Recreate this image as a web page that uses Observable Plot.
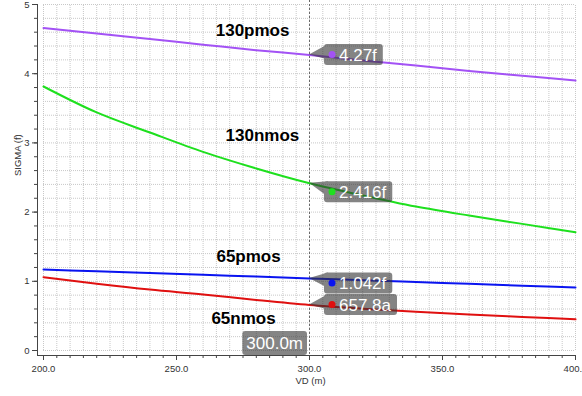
<!DOCTYPE html>
<html>
<head>
<meta charset="utf-8">
<script src="https://cdn.jsdelivr.net/npm/d3@7"></script>
<script src="https://cdn.jsdelivr.net/npm/@observablehq/plot@0.6"></script>
<style>
  html, body { margin: 0; padding: 0; background: #fff; overflow: hidden; }
  #chart svg { display: block; }
</style>
</head>
<body>
<div id="chart"></div>
<script>
const FONT = "'Liberation Sans', Arial, Helvetica, sans-serif";

// Drain-voltage sweep, VD in mV
const vd = [200, 220, 240, 260, 280, 300, 320, 340, 360, 380, 400];

// Mismatch sigma (fF) for each device
const sigma130pmos = [4.66, 4.58, 4.50, 4.42, 4.34, 4.27, 4.19, 4.12, 4.04, 3.97, 3.90];
const sigma130nmos = [3.815, 3.44, 3.15, 2.87, 2.63, 2.416, 2.24, 2.08, 1.95, 1.83, 1.71];
const sigma65pmos  = [1.17, 1.145, 1.12, 1.094, 1.068, 1.042, 1.016, 0.99, 0.963, 0.937, 0.91];
const sigma65nmos  = [1.06, 0.965, 0.88, 0.81, 0.73, 0.6578, 0.605, 0.56, 0.52, 0.485, 0.45];

const seriesNames  = ["130pmos", "130nmos", "65pmos", "65nmos"];
const seriesValues = [sigma130pmos, sigma130nmos, sigma65pmos, sigma65nmos];
const seriesColors = ["#a352f5", "#1ee01e", "#0a14f0", "#e01010"];

// Where each curve name sits (VD, sigma)
const labelVD    = [278.6, 282.3, 277.1, 275.2];
const labelSigma = [4.62, 3.11, 1.36, 0.46];

// Vertical cursor and its readouts
const cursorVD = 300;
const cursorText = "300.0m";
const readoutValues = [4.27, 2.416, 1.042, 0.6578];
const readoutText = ["4.27f", "2.416f", "1.042f", "657.8a"];

// Axis ticks
const xMajor = d3.range(200, 401, 50);
const xMinor = d3.range(200, 401, 5);
const yMajor = d3.range(0, 6);
const yMinor = d3.range(0, 26).map(i => i / 5);

// ---- tables built from the arrays above ----
const curves = seriesNames.flatMap((name, s) =>
  vd.map((x, i) => ({series: name, x, y: seriesValues[s][i]})));
const curveLabels = seriesNames.map((name, s) => ({name, x: labelVD[s], y: labelSigma[s]}));
// vertical nudge (px) of each readout box so neighbouring boxes don't collide
const readoutShift = [0, 9, 5, 0];
const readouts = seriesNames.map((name, s) => ({
  x: cursorVD, y: readoutValues[s], text: readoutText[s], color: seriesColors[s], shift: readoutShift[s]
}));

const measureCtx = document.createElement("canvas").getContext("2d");
function textWidth(str, size) {
  measureCtx.font = `${size}px ${FONT}`;
  return measureCtx.measureText(str).width;
}

// Grey flag-shaped readout boxes pointing at the cursor crossings
function readoutCallouts(rows) {
  return Plot.dot(rows, {
    x: "x", y: "y",
    render(index, scales, values) {
      const g = d3.create("svg:g");
      for (const i of index) {
        const {text, color, shift} = rows[i];
        const px = values.x[i], py = values.y[i];
        const cy = py + shift;
        const h = 21, bx = px + 15, top = cy - h / 2;
        const w = 15 + textWidth(text, 17) + 6;
        const shape = g.append("g").attr("opacity", 0.6).attr("fill", "#333");
        shape.append("path").attr("d", `M${px},${py}L${bx + 4},${top}L${bx + 4},${cy + 5}Z`);
        shape.append("rect").attr("x", bx).attr("y", top).attr("width", w).attr("height", h).attr("rx", 3);
        g.append("circle").attr("cx", bx + 8).attr("cy", cy).attr("r", 3.5).attr("fill", color);
        g.append("text")
          .attr("x", bx + 15).attr("y", cy).attr("dy", "0.36em")
          .attr("text-anchor", "start")
          .attr("fill", "#fff").attr("font-size", 17).attr("font-family", FONT)
          .text(text);
      }
      return g.node();
    }
  });
}

// Cursor position box sitting on the x axis, left of the cursor line
function cursorBox(value, label) {
  return Plot.dot([value], {
    x: d => d,
    render(index, scales, values, dims) {
      const g = d3.create("svg:g");
      const px = values.x[index[0]];
      const bottom = dims.height - dims.marginBottom;
      const w = textWidth(label, 17) + 8, h = 24;
      g.append("rect")
        .attr("x", px - 2 - w).attr("y", bottom - h).attr("width", w).attr("height", h)
        .attr("rx", 3).attr("fill", "#333").attr("opacity", 0.6);
      g.append("text")
        .attr("x", px - 2 - w / 2).attr("y", bottom - h / 2).attr("dy", "0.36em")
        .attr("text-anchor", "middle").attr("fill", "#fff")
        .attr("font-size", 17).attr("font-family", FONT)
        .text(label);
      return g.node();
    }
  });
}

const chart = Plot.plot({
  width: 582,
  height: 396,
  marginLeft: 37,
  marginRight: 7,
  marginTop: 4,
  marginBottom: 41,
  x: {domain: [200, 400], insetLeft: 6},
  y: {domain: [0, 5], insetBottom: 5},
  color: {domain: seriesNames, range: seriesColors},
  style: {fontFamily: FONT, fontSize: "9.5px", color: "#333", background: "#fff", overflow: "visible"},
  marks: [
    // dotted grid
    Plot.ruleY(yMinor, {x1: 200, x2: 400, stroke: "#c8c8c8", strokeDasharray: "1,1"}),
    Plot.ruleX(xMinor, {y1: 0, y2: 5, stroke: "#c8c8c8", strokeDasharray: "1,1"}),
    // cursor line
    Plot.ruleX([cursorVD], {stroke: "#6a6a6a", strokeDasharray: "2,2", insetTop: -4}),
    // curves
    Plot.line(curves, {x: "x", y: "y", z: "series", stroke: "series", strokeWidth: 2, curve: "monotone-x"}),
    // curve names
    Plot.text(curveLabels, {
      x: "x", y: "y", text: "name", fill: "#000",
      fontSize: 17, fontWeight: "bold", fontFamily: FONT
    }),
    // readouts
    readoutCallouts(readouts),
    cursorBox(cursorVD, cursorText),
    // axes
    Plot.frame({anchor: "left", stroke: "#444"}),
    Plot.frame({anchor: "bottom", stroke: "#444"}),
    Plot.axisY(yMajor, {tickSize: 5, tickPadding: 3, tickFormat: d3.format("d"), label: null, stroke: "#444", fontSize: 9.5}),
    Plot.axisY(yMinor, {tickSize: 3, tickFormat: () => "", label: null, stroke: "#444"}),
    Plot.axisX(xMajor, {tickSize: 5, tickPadding: 5, tickFormat: d3.format(".1f"), label: null, stroke: "#444", fontSize: 9.5}),
    Plot.axisX(xMinor, {tickSize: 3, tickFormat: () => "", label: null, stroke: "#444"}),
    // axis titles
    Plot.text(["SIGMA (f)"], {frameAnchor: "left", rotate: -90, dx: -20, dy: -4, fontSize: 9.5, fill: "#333"}),
    Plot.text(["VD (m)"], {frameAnchor: "bottom", dx: 4, dy: 28, fontSize: 9.5, fill: "#333"})
  ]
});

document.getElementById("chart").append(chart);
</script>
</body>
</html>
